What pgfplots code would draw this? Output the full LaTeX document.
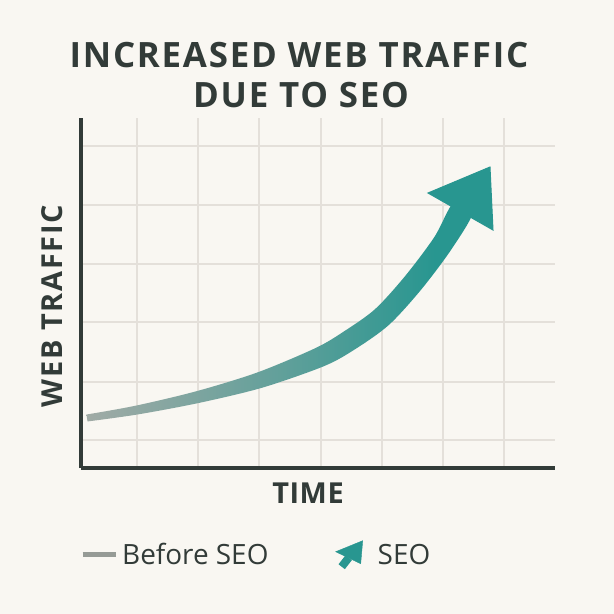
\documentclass[border=0pt]{standalone}
\usepackage{pgfplots}
\pgfplotsset{compat=1.18}
\usepackage{fontspec}
\setmainfont{Open Sans}

\definecolor{bg}{RGB}{249,247,242}
\definecolor{ink}{RGB}{50,59,56}
\definecolor{gridc}{RGB}{228,224,218}
\definecolor{seo}{RGB}{40,150,144}
\definecolor{before}{RGB}{168,172,167}
\definecolor{legline}{RGB}{150,155,150}

% grey on the left, teal from about two thirds of the way
\pgfdeclarehorizontalshading{seoshade}{100bp}{
    color(0bp)=(before); color(22bp)=(before); color(50bp)=(seo!55!before);
    color(70bp)=(seo); color(100bp)=(seo)}

\begin{document}
\begin{tikzpicture}
\fill[bg] (0,0) rectangle (614bp,-614bp);
\useasboundingbox (0,0) rectangle (614bp,-614bp);

\node[anchor=base, text=ink, font=\bfseries\fontsize{35}{40}\selectfont\addfontfeatures{LetterSpace=5}] at (299bp,-67bp) {INCREASED WEB TRAFFIC};
\node[anchor=base, text=ink, font=\bfseries\fontsize{35}{40}\selectfont\addfontfeatures{LetterSpace=5}] at (301bp,-107bp) {DUE TO SEO};
\node[anchor=base, text=ink, font=\bfseries\fontsize{29}{34}\selectfont\addfontfeatures{LetterSpace=2}] at (308bp,-503bp) {TIME};
\node[anchor=base, rotate=90, text=ink, font=\bfseries\fontsize{29}{34}\selectfont\addfontfeatures{LetterSpace=6}] at (62bp,-306bp) {WEB TRAFFIC};

\begin{axis}[
    at={(81bp,-468bp)}, anchor=south west,
    scale only axis, width=474bp, height=350bp,
    xmin=0, xmax=474, ymin=0, ymax=350,
    axis x line=bottom, axis y line=left,
    axis line style={draw=ink, line width=3.5bp, -},
    xtick={56,117,178,240,301,362,423},
    ytick={28,86,146,204,263,322},
    xticklabels={}, yticklabels={},
    major tick length=0pt,
    grid=major,
    major grid style={draw=gridc, line width=1.5bp},
    clip=false,
    legend columns=2,
    legend cell align=left,
    legend style={at={(axis cs:-1,-87)}, anchor=west, draw=none, fill=none,
        inner sep=0pt, text=ink, font=\fontsize{28}{30}\selectfont,
        nodes={inner sep=4bp}},
    /tikz/every even column/.append style={column sep=63bp},
]
% shaft: upper edge left to right, then lower edge back
\addplot[forget plot, shade, shading=seoshade, draw=none, smooth, tension=0.5] coordinates {
    (5.45,53.46) (55.16,62.42) (115.58,76.83) (176.5,95.6) (234.73,120.04)
    (263.34,136.84) (294.02,158.84) (323.91,191.70) (353.21,230.75) (373.85,267.19)
    (392.15,256.81) (370.79,219.25) (340.09,178.30) (307.98,143.16) (274.66,119.16)
    (243.27,101.96) (181.5,80.4) (118.42,65.17) (56.84,53.58) (6.55,46.54)
} -- cycle;
% arrow head
\addplot[forget plot, fill=seo, draw=seo, line width=1bp]
    coordinates {(347,275) (409,301) (412,238)} -- cycle;

\addlegendimage{legend image code/.code={
    \draw[legline, line width=5bp] (0bp,0bp) -- (33bp,0bp);}}
\addlegendentry{Before SEO}
\addlegendimage{legend image code/.code={
    \path[draw=none] (0bp,0bp) -- (38bp,0bp);
    \fill[seo] (0bp,3bp) -- (27bp,14bp) -- (25bp,-9bp) -- cycle;
    \draw[seo, line width=8bp] (13bp,-3bp) -- (6bp,-12bp);}}
\addlegendentry{SEO}
\end{axis}
\end{tikzpicture}
\end{document}
